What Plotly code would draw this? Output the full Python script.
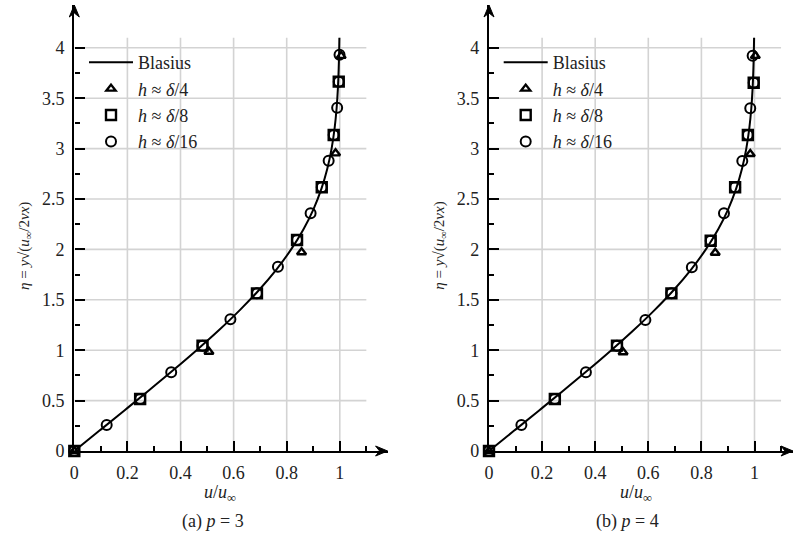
import plotly.graph_objects as go

# ---------------- data ----------------
# Blasius profile (eta, u/u_inf)
blasius_eta = [0.0, 0.2, 0.4, 0.6, 0.8, 1.0, 1.2, 1.4, 1.6, 1.8, 2.0, 2.2, 2.4,
               2.6, 2.8, 3.0, 3.2, 3.4, 3.6, 3.8, 4.0, 4.1]
blasius_u = [0.0, 0.0939, 0.1876, 0.2806, 0.3720, 0.4606, 0.5453, 0.6244, 0.6967,
             0.7611, 0.8167, 0.8633, 0.9011, 0.9306, 0.9529, 0.9691, 0.9804,
             0.9880, 0.9929, 0.9959, 0.9978, 0.9984]

# (a) p = 3
a_tri_u = [0.0, 0.507, 0.856, 0.984, 1.005]
a_tri_eta = [0.0, 0.985, 1.971, 2.953, 3.92]
a_sq_u = [0.0, 0.248, 0.483, 0.688, 0.839, 0.932, 0.977, 0.996]
a_sq_eta = [0.0, 0.516, 1.045, 1.564, 2.093, 2.616, 3.135, 3.664]
a_ci_u = [0.0, 0.122, 0.248, 0.365, 0.483, 0.588, 0.688, 0.767, 0.839, 0.89,
          0.932, 0.958, 0.977, 0.99, 0.996, 0.999]
a_ci_eta = [0.0, 0.258, 0.516, 0.781, 1.045, 1.306, 1.564, 1.828, 2.093, 2.358,
            2.616, 2.88, 3.135, 3.406, 3.664, 3.93]

# (b) p = 4
b_tri_u = [0.0, 0.505, 0.852, 0.984, 1.003]
b_tri_eta = [0.0, 0.979, 1.967, 2.946, 3.92]
b_sq_u = [0.0, 0.248, 0.482, 0.687, 0.835, 0.927, 0.975, 0.997]
b_sq_eta = [0.0, 0.516, 1.045, 1.564, 2.086, 2.616, 3.135, 3.654]
b_ci_u = [0.0, 0.122, 0.248, 0.365, 0.482, 0.589, 0.687, 0.764, 0.835, 0.885,
          0.927, 0.954, 0.975, 0.984, 0.997, 0.993]
b_ci_eta = [0.0, 0.258, 0.516, 0.781, 1.045, 1.30, 1.564, 1.822, 2.086, 2.358,
            2.616, 2.877, 3.135, 3.40, 3.654, 3.92]

x_major = [0, 0.2, 0.4, 0.6, 0.8, 1.0]
x_major_text = ["0", "0.2", "0.4", "0.6", "0.8", "1"]
x_minor = [0.1, 0.3, 0.5, 0.7, 0.9, 1.1]
y_major = [0, 0.5, 1, 1.5, 2, 2.5, 3, 3.5, 4]
y_major_text = ["0", "0.5", "1", "1.5", "2", "2.5", "3", "3.5", "4"]
y_minor = [0.25, 0.75, 1.25, 1.75, 2.25, 2.75, 3.25, 3.75]

labels = ["Blasius", "<i>h</i> ≈ <i>δ</i>/4", "<i>h</i> ≈ <i>δ</i>/8", "<i>h</i> ≈ <i>δ</i>/16"]
captions = ["(a) <i>p</i> = 3", "(b) <i>p</i> = 4"]

FONT = "Liberation Serif"
W, H = 793, 536

fig = go.Figure()

panels = [
    dict(xa="x", ya="y", leg="legend", tri=(a_tri_u, a_tri_eta), sq=(a_sq_u, a_sq_eta), ci=(a_ci_u, a_ci_eta)),
    dict(xa="x2", ya="y2", leg="legend2", tri=(b_tri_u, b_tri_eta), sq=(b_sq_u, b_sq_eta), ci=(b_ci_u, b_ci_eta)),
]

for p in panels:
    fig.add_trace(go.Scatter(x=blasius_u, y=blasius_eta, mode="lines", name=labels[0],
                             line=dict(color="black", width=2, shape="spline"),
                             xaxis=p["xa"], yaxis=p["ya"], legend=p["leg"], cliponaxis=False))
    fig.add_trace(go.Scatter(x=p["tri"][0], y=p["tri"][1], mode="markers", name=labels[1],
                             marker=dict(symbol="triangle-up-open", size=8, color="black",
                                         line=dict(width=2.4, color="black")),
                             xaxis=p["xa"], yaxis=p["ya"], legend=p["leg"], cliponaxis=False))
    fig.add_trace(go.Scatter(x=p["sq"][0], y=p["sq"][1], mode="markers", name=labels[2],
                             marker=dict(symbol="square-open", size=10, color="black",
                                         line=dict(width=2.4, color="black")),
                             xaxis=p["xa"], yaxis=p["ya"], legend=p["leg"], cliponaxis=False))
    fig.add_trace(go.Scatter(x=p["ci"][0], y=p["ci"][1], mode="markers", name=labels[3],
                             marker=dict(symbol="circle-open", size=10, color="black",
                                         line=dict(width=2, color="black")),
                             xaxis=p["xa"], yaxis=p["ya"], legend=p["leg"], cliponaxis=False))

# geometry (pixels)
y0_px = 451.0
y_scale = 100.8
top_px = 5.0
y_top = (y0_px - top_px) / y_scale
x_scale = 265.5
ax0_px = [74.3, 489.0]
x_right = [1.18, (W - ax0_px[1]) / x_scale]

ydom = [(H - y0_px) / H, (H - top_px) / H]

def xaxis_cfg(i):
    return dict(
        domain=[ax0_px[i] / W, min(1.0, (ax0_px[i] + x_right[i] * x_scale) / W)],
        range=[0, x_right[i]], showgrid=False, zeroline=False, automargin=False,
        showline=True, linecolor="black", linewidth=2.4,
        tickmode="array", tickvals=x_major, ticktext=x_major_text,
        ticks="inside", ticklen=10, tickwidth=2, tickcolor="black",
        minor=dict(tickmode="array", tickvals=x_minor, ticks="inside", ticklen=5,
                   tickwidth=2, tickcolor="black", showgrid=False),
        tickfont=dict(family=FONT, size=18, color="#222"),
        ticklabelstandoff=4,
        anchor="y" if i == 0 else "y2",
    )

def yaxis_cfg(i):
    return dict(
        domain=ydom, range=[0, y_top], showgrid=False, zeroline=False, automargin=False,
        showline=True, linecolor="black", linewidth=2.4,
        tickmode="array", tickvals=y_major, ticktext=y_major_text,
        ticks="inside", ticklen=10, tickwidth=2, tickcolor="black",
        minor=dict(tickmode="array", tickvals=y_minor, ticks="inside", ticklen=5,
                   tickwidth=2, tickcolor="black", showgrid=False),
        tickfont=dict(family=FONT, size=18, color="#222"),
        ticklabelstandoff=4,
        anchor="x" if i == 0 else "x2",
    )

def px(xp, yp):
    return f"{xp / W:.5f} {1 - yp / H:.5f}"

shapes = []
annotations = []
for i, (xr, yr) in enumerate([("x", "y"), ("x2", "y2")]):
    off = ax0_px[i] - ax0_px[0]
    for xv in x_major[1:]:
        shapes.append(dict(type="line", xref=xr, yref=yr, x0=xv, x1=xv, y0=0, y1=4.1,
                           line=dict(color="#d3d3d3", width=1.6), layer="below"))
    for yv in y_major[1:]:
        shapes.append(dict(type="line", xref=xr, yref=yr, x0=0, x1=1.1, y0=yv, y1=yv,
                           line=dict(color="#d3d3d3", width=1.6), layer="below"))
    # white legend backdrop hiding the grid
    shapes.append(dict(type="rect", xref="paper", yref="paper",
                       x0=(78 + off) / W, x1=(247 + off) / W,
                       y0=1 - 162 / H, y1=1 - 43 / H,
                       fillcolor="white", line=dict(width=0), layer="below"))
    # axis arrowheads in paper coordinates (not clipped)
    tx = ax0_px[i] + x_right[i] * x_scale
    ty = y0_px
    shapes.append(dict(type="path", xref="paper", yref="paper",
                       path=f"M {px(tx, ty)} L {px(tx - 12, ty - 5)} L {px(tx - 8, ty)} L {px(tx - 12, ty + 5)} Z",
                       fillcolor="black", line=dict(color="black", width=1), layer="above"))
    ux = ax0_px[i]
    uy = top_px
    shapes.append(dict(type="path", xref="paper", yref="paper",
                       path=f"M {px(ux, uy)} L {px(ux + 5, uy + 12)} L {px(ux, uy + 8)} L {px(ux - 5, uy + 12)} Z",
                       fillcolor="black", line=dict(color="black", width=1), layer="above"))
    annotations.append(dict(x=(25 + off) / W, y=1 - 246 / H, xref="paper", yref="paper",
                            xanchor="center", yanchor="middle",
                            text="<i>η</i> = <i>y</i>√(<i>u</i><sub>∞</sub>/2<i>νx</i>)",
                            textangle=-90, showarrow=False,
                            font=dict(family=FONT, size=15, color="#222")))
    annotations.append(dict(x=(220 + off + i) / W, y=1 - 493 / H, xref="paper", yref="paper",
                            xanchor="center", yanchor="middle",
                            text="<i>u</i>/<i>u</i><sub>∞</sub>", showarrow=False,
                            font=dict(family=FONT, size=18, color="#222")))
    annotations.append(dict(x=(213 + off) / W, y=1 - 521.5 / H, xref="paper", yref="paper",
                            xanchor="center", yanchor="middle",
                            text=captions[i], showarrow=False,
                            font=dict(family=FONT, size=18, color="#222")))

leg_common = dict(bgcolor="rgba(255,255,255,0)", borderwidth=0, xanchor="left", yanchor="top",
                  font=dict(family=FONT, size=18, color="#222"), itemwidth=44,
                  tracegroupgap=0)

fig.update_layout(
    width=W, height=H, margin=dict(l=0, r=0, t=0, b=0),
    paper_bgcolor="white", plot_bgcolor="white",
    xaxis=xaxis_cfg(0), yaxis=yaxis_cfg(0),
    xaxis2=xaxis_cfg(1), yaxis2=yaxis_cfg(1),
    shapes=shapes, annotations=annotations,
    legend=dict(x=84 / W, y=1 - 44 / H, **leg_common),
    legend2=dict(x=(84 + ax0_px[1] - ax0_px[0]) / W, y=1 - 44 / H, **leg_common),
    showlegend=True,
)

fig.write_html("out.html")
